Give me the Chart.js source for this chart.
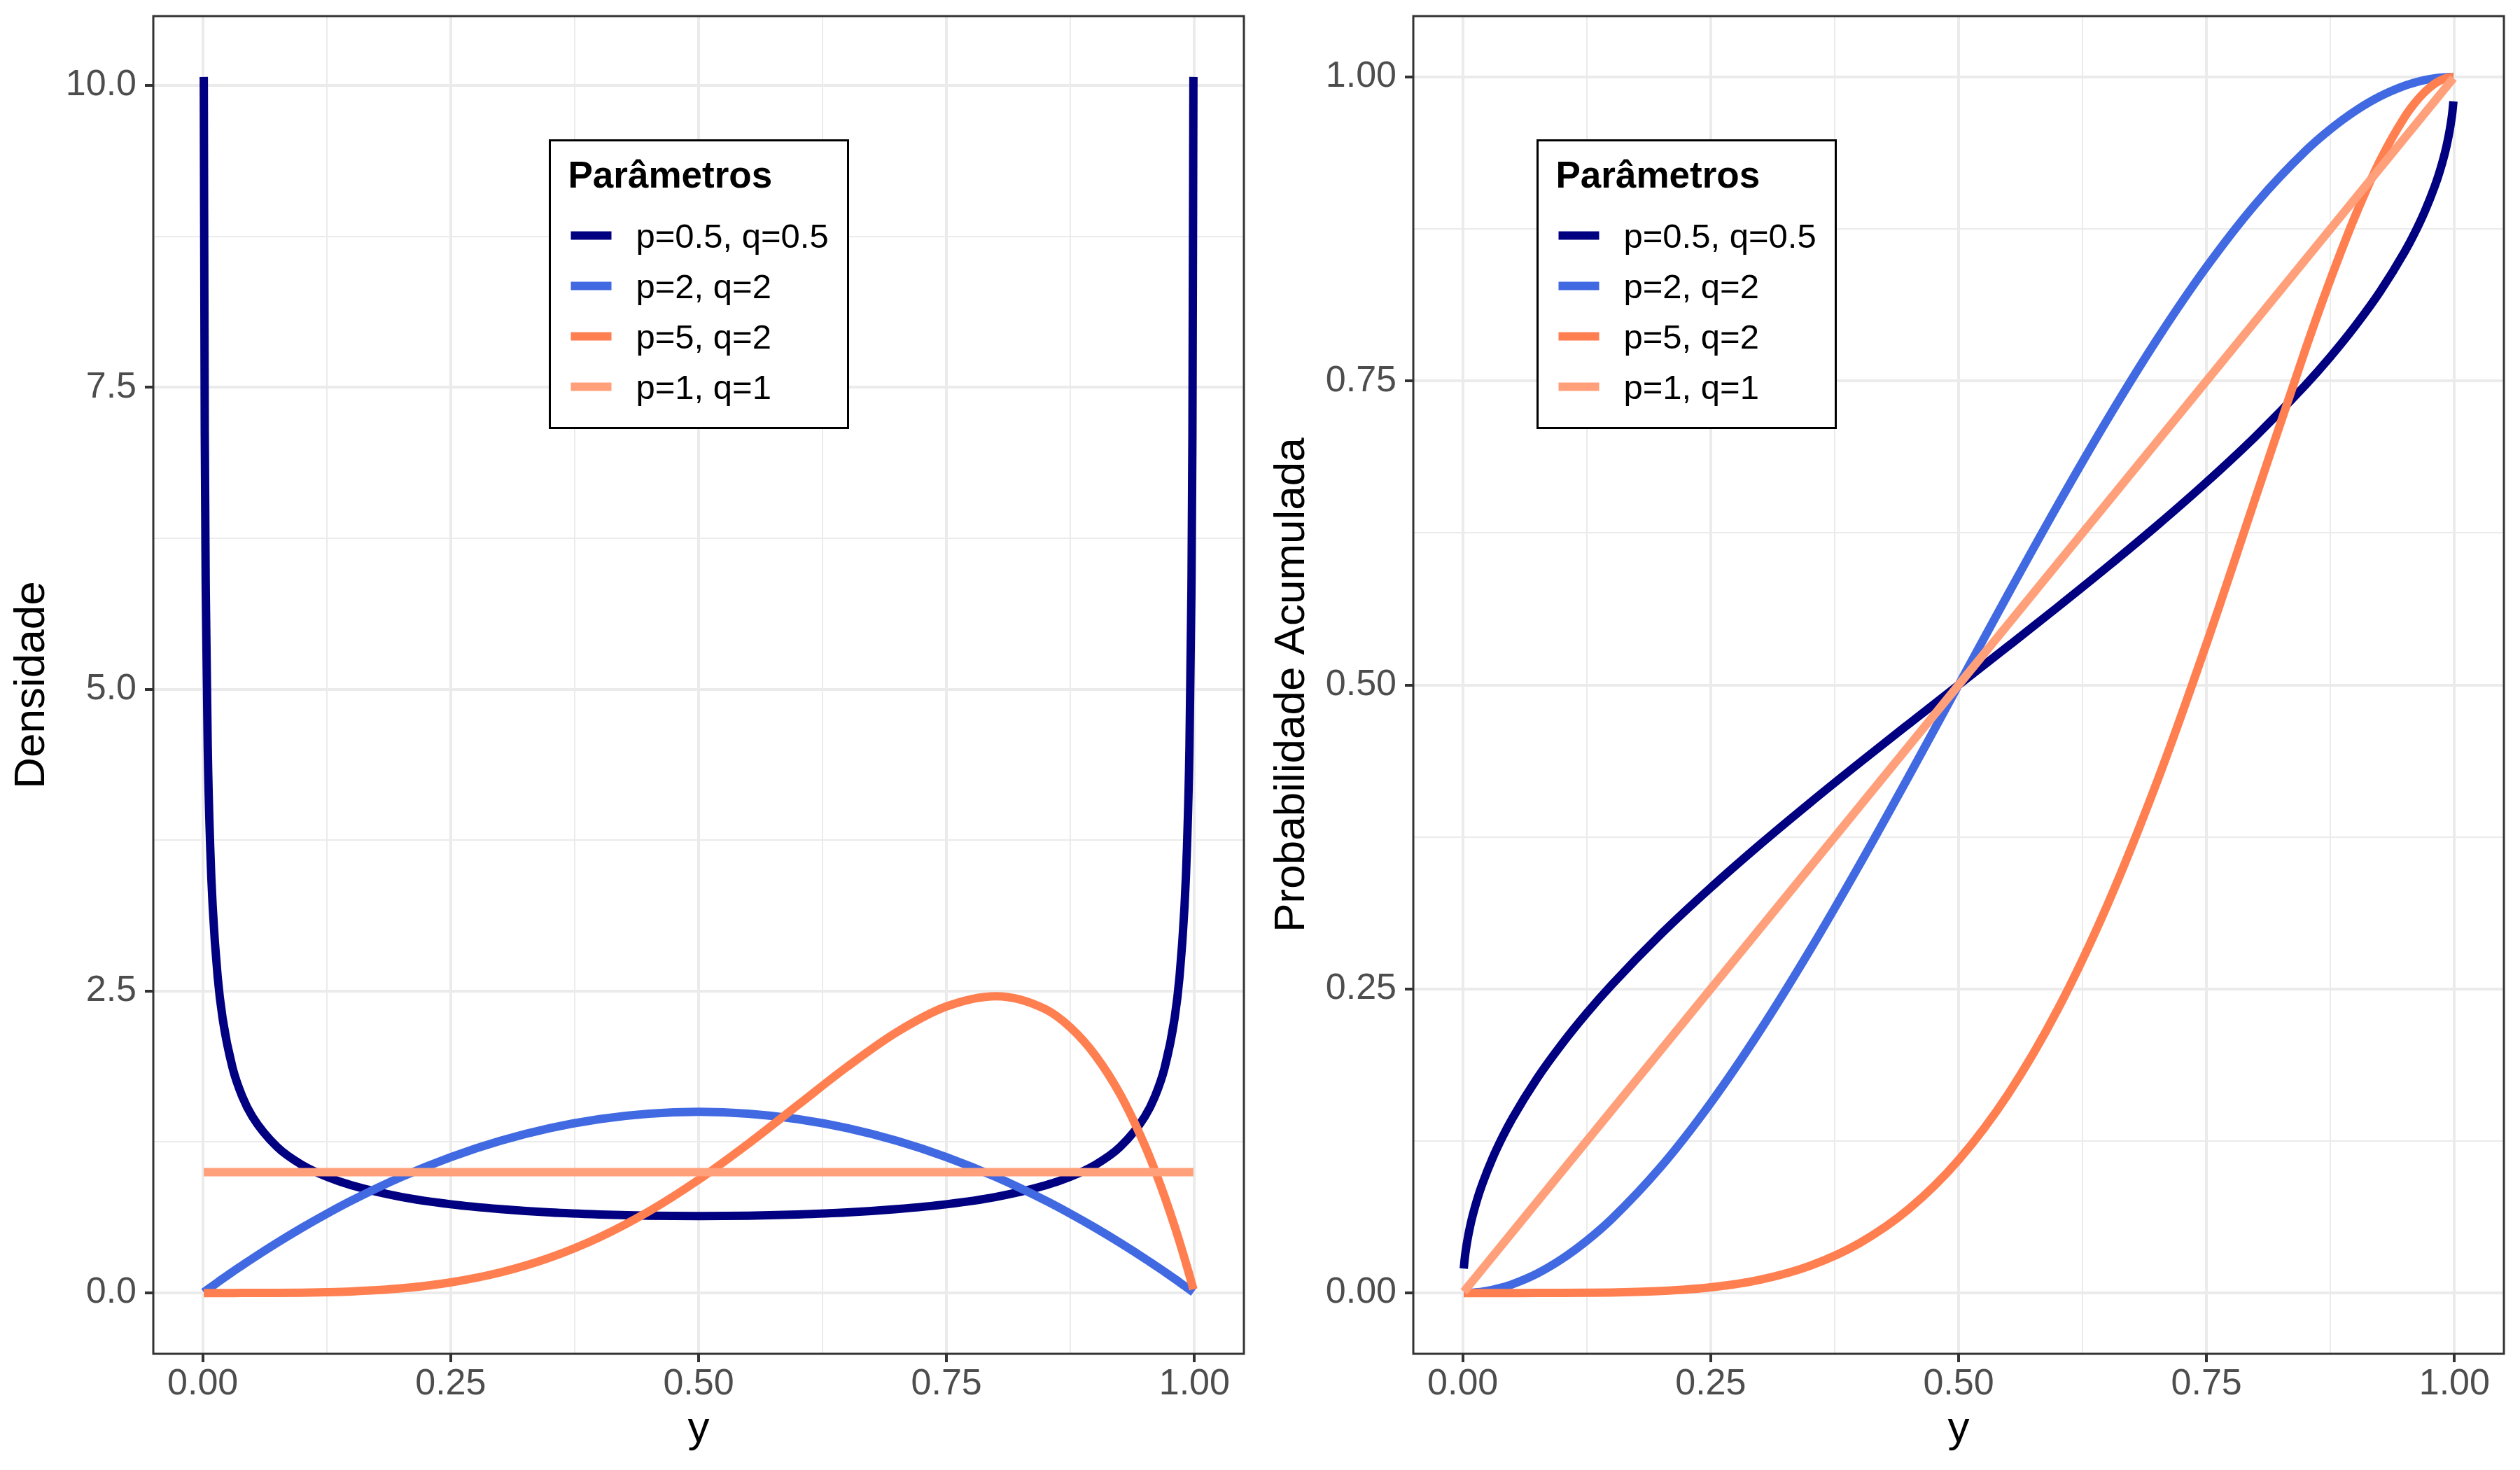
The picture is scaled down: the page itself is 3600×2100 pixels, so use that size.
<!DOCTYPE html>
<html>
<head>
<meta charset="utf-8">
<title>Distribuição Beta</title>
<script src="https://cdn.jsdelivr.net/npm/chart.js@4.4.0/dist/chart.umd.min.js"></script>
<style>
  html, body { margin: 0; padding: 0; background: #fff; }
  #wrap { position: relative; width: 3600px; height: 2100px; }
  canvas { position: absolute; top: 0; }
  #densidade { left: 0; }
  #acumulada { left: 1800px; }
</style>
</head>
<body>
<div id="wrap">
  <canvas id="densidade" width="1800" height="2100"></canvas>
  <canvas id="acumulada" width="1800" height="2100"></canvas>
</div>
<script>
// valores de y onde as curvas foram lidas
const yGrid = [0.001, 0.002, 0.003, 0.005, 0.0075, 0.01, 0.015, 0.02, 0.03, 0.04, 0.05, 0.075, 0.1, 0.125, 0.15,
  0.2, 0.25, 0.3, 0.35, 0.4, 0.45, 0.5, 0.55, 0.6, 0.65, 0.7, 0.75, 0.8,
  0.85, 0.875, 0.9, 0.925, 0.95, 0.96, 0.97, 0.98, 0.985, 0.99, 0.9925, 0.995, 0.997, 0.998, 0.999];
const yEnds = [0.001, 0.999];

const seriesLabels = ['p=0.5, q=0.5', 'p=2, q=2', 'p=5, q=2', 'p=1, q=1'];
const seriesColors = ['#000080', '#4169E1', '#FF7F50', '#FFA07A'];

// densidades
const dens05 = [10.07, 7.125, 5.82, 4.513, 3.689, 3.199, 2.619, 2.274, 1.866, 1.624, 1.461, 1.209, 1.061, 0.963, 0.892,
  0.796, 0.735, 0.695, 0.667, 0.650, 0.640, 0.637, 0.640, 0.650, 0.667, 0.695, 0.735, 0.796,
  0.892, 0.963, 1.061, 1.209, 1.461, 1.624, 1.866, 2.274, 2.619, 3.199, 3.689, 4.513, 5.82, 7.125, 10.07];
const dens22 = [0.006, 0.012, 0.018, 0.030, 0.045, 0.059, 0.089, 0.118, 0.175, 0.230, 0.285, 0.416, 0.540, 0.656, 0.765,
  0.960, 1.125, 1.260, 1.365, 1.440, 1.485, 1.500, 1.485, 1.440, 1.365, 1.260, 1.125, 0.960,
  0.765, 0.656, 0.540, 0.416, 0.285, 0.230, 0.175, 0.118, 0.089, 0.059, 0.045, 0.030, 0.018, 0.012, 0.006];
const dens52 = [0, 0, 0, 0, 0, 0, 0, 0.000005, 0.000024, 0.000074, 0.000178, 0.000878, 0.0027, 0.00641, 0.0129,
  0.0384, 0.0879, 0.1701, 0.2926, 0.4608, 0.6766, 0.9375, 1.2353, 1.5552, 1.8743, 2.1609, 2.3730, 2.4576,
  2.3490, 2.1982, 1.9683, 1.6472, 1.2218, 1.0192, 0.7968, 0.5534, 0.4236, 0.2882, 0.2183, 0.1470, 0.0889, 0.0595, 0.0299];
const dens11 = [1, 1];

// probabilidades acumuladas
const cdf05 = [0.0201, 0.0285, 0.0349, 0.0450, 0.0552, 0.0638, 0.0782, 0.0903, 0.1108, 0.1282, 0.1436, 0.1766, 0.2048, 0.2301, 0.2532,
  0.2952, 0.3333, 0.3690, 0.4030, 0.4359, 0.4681, 0.5, 0.5319, 0.5641, 0.5970, 0.6310, 0.6667, 0.7048,
  0.7468, 0.7699, 0.7952, 0.8234, 0.8564, 0.8718, 0.8892, 0.9097, 0.9218, 0.9362, 0.9448, 0.9550, 0.9651, 0.9715, 0.9799];
const cdf22 = [0.000003, 0.000012, 0.000027, 0.000075, 0.000168, 0.000298, 0.000668, 0.001184, 0.002646, 0.004672, 0.00725, 0.01603, 0.028, 0.04297, 0.06075,
  0.104, 0.15625, 0.216, 0.28175, 0.352, 0.42525, 0.5, 0.57475, 0.648, 0.71825, 0.784, 0.84375, 0.896,
  0.93925, 0.95703, 0.972, 0.98397, 0.99275, 0.99533, 0.99735, 0.99882, 0.99933, 0.99970, 0.99983, 0.99993, 0.99997, 0.99999, 1.0];
const cdf52 = [0, 0, 0, 0, 0, 0, 0, 0, 0, 0, 0.000002, 0.000014, 0.000055, 0.000164, 0.000399,
  0.0016, 0.00464, 0.01094, 0.02232, 0.04096, 0.0692, 0.10938, 0.16357, 0.23328, 0.31908, 0.42018, 0.53394, 0.65536,
  0.77648, 0.83348, 0.88574, 0.93113, 0.96723, 0.97845, 0.98754, 0.99432, 0.99676, 0.99854, 0.99917, 0.99963, 0.99987, 0.99994, 0.99999];
const cdf11 = [0.001, 0.999];

// eixos
const xTicks = [0, 0.25, 0.5, 0.75, 1];
const xTickLabels = ['0.00', '0.25', '0.50', '0.75', '1.00'];
const densTicks = [0, 2.5, 5, 7.5, 10];
const densTickLabels = ['0.0', '2.5', '5.0', '7.5', '10.0'];
const cdfTicks = [0, 0.25, 0.5, 0.75, 1];
const cdfTickLabels = ['0.00', '0.25', '0.50', '0.75', '1.00'];

Chart.defaults.font.family = '"Liberation Sans", Arial, sans-serif';

function withMinor(major) {
  const all = major.slice();
  for (let i = 1; i < major.length; i++) all.push((major[i - 1] + major[i]) / 2);
  return all.sort((a, b) => a - b);
}

function makeAxis(horizontal, major, labels, min, max, title) {
  const ticks = withMinor(major);
  const majorIndex = v => major.findIndex(m => Math.abs(m - v) < 1e-9);
  return {
    type: 'linear',
    min: min,
    max: max,
    afterBuildTicks: s => { s.ticks = ticks.map(v => ({ value: v })); },
    afterFit: s => {
      if (horizontal) { s.height = 166; s.paddingLeft = 0; s.paddingRight = 0; }
      else { s.width = 219; s.paddingTop = 0; s.paddingBottom = 0; }
    },
    ticks: {
      autoSkip: false,
      maxRotation: 0,
      padding: horizontal ? 0 : 12,
      color: '#4D4D4D',
      font: { size: 52 },
      callback: v => { const i = majorIndex(v); return i < 0 ? '' : labels[i]; }
    },
    grid: {
      color: '#EBEBEB',
      lineWidth: c => majorIndex(c.tick.value) < 0 ? 2 : 4,
      drawTicks: true,
      tickLength: 12,
      tickWidth: 4,
      tickColor: c => majorIndex(c.tick.value) < 0 ? 'rgba(0,0,0,0)' : '#333333'
    },
    border: { display: false },
    title: {
      display: true,
      text: title,
      color: '#000000',
      font: { size: 62 },
      padding: horizontal ? { top: 0, bottom: 21 } : { top: 9, bottom: 0 }
    }
  };
}

const panelBorder = {
  id: 'panelBorder',
  afterDatasetsDraw(chart) {
    const { ctx, chartArea: a } = chart;
    ctx.save();
    ctx.strokeStyle = '#333333';
    ctx.lineWidth = 3;
    ctx.strokeRect(a.left, a.top, a.right - a.left, a.bottom - a.top);
    ctx.restore();
  }
};

const boxLegend = {
  id: 'boxLegend',
  afterDraw(chart, args, opts) {
    const ctx = chart.ctx;
    const x = opts.x, y = opts.y;
    ctx.save();
    ctx.fillStyle = '#ffffff';
    ctx.fillRect(x, y, 426, 411);
    ctx.strokeStyle = '#000000';
    ctx.lineWidth = 3;
    ctx.strokeRect(x, y, 426, 411);
    ctx.fillStyle = '#000000';
    ctx.textBaseline = 'alphabetic';
    ctx.font = 'bold 53px "Liberation Sans"';
    ctx.fillText('Parâmetros', x + 26, y + 67);
    ctx.font = '49px "Liberation Sans"';
    chart.data.datasets.forEach((ds, i) => {
      const cy = y + 136 + i * 72;
      ctx.strokeStyle = ds.borderColor;
      ctx.lineWidth = 12;
      ctx.lineCap = 'butt';
      ctx.beginPath();
      ctx.moveTo(x + 30, cy);
      ctx.lineTo(x + 88, cy);
      ctx.stroke();
      ctx.fillText(ds.label, x + 123, cy + 17);
    });
    ctx.restore();
  }
};

function buildDatasets(series) {
  return series.map((s, i) => ({
    label: seriesLabels[i],
    data: s[0].map((x, j) => ({ x: x, y: s[1][j] })),
    borderColor: seriesColors[i],
    backgroundColor: seriesColors[i],
    borderWidth: 12,
    pointRadius: 0,
    fill: false,
    cubicInterpolationMode: 'monotone',
    borderCapStyle: 'butt',
    borderJoinStyle: 'round',
    order: series.length - 1 - i
  }));
}

function makeChart(id, series, yTitle, yMin, yMax, yMajor, yLabels, legendX) {
  return new Chart(document.getElementById(id), {
    type: 'line',
    data: { datasets: buildDatasets(series) },
    options: {
      responsive: false,
      animation: false,
      devicePixelRatio: 1,
      layout: { padding: { left: 0, right: 23, top: 23, bottom: 0 } },
      scales: {
        x: makeAxis(true, xTicks, xTickLabels, -0.0499, 1.0499, 'y'),
        y: makeAxis(false, yMajor, yLabels, yMin, yMax, yTitle)
      },
      plugins: {
        legend: { display: false },
        tooltip: { enabled: false },
        boxLegend: { x: legendX, y: 200.5 }
      }
    },
    plugins: [panelBorder, boxLegend]
  });
}

makeChart('densidade',
  [[yGrid, dens05], [yGrid, dens22], [yGrid, dens52], [yEnds, dens11]],
  'Densidade', -0.5035, 10.5735, densTicks, densTickLabels, 785.5);

makeChart('acumulada',
  [[yGrid, cdf05], [yGrid, cdf22], [yGrid, cdf52], [yEnds, cdf11]],
  'Probabilidade Acumulada', -0.05, 1.05, cdfTicks, cdfTickLabels, 396.5);
</script>
</body>
</html>
